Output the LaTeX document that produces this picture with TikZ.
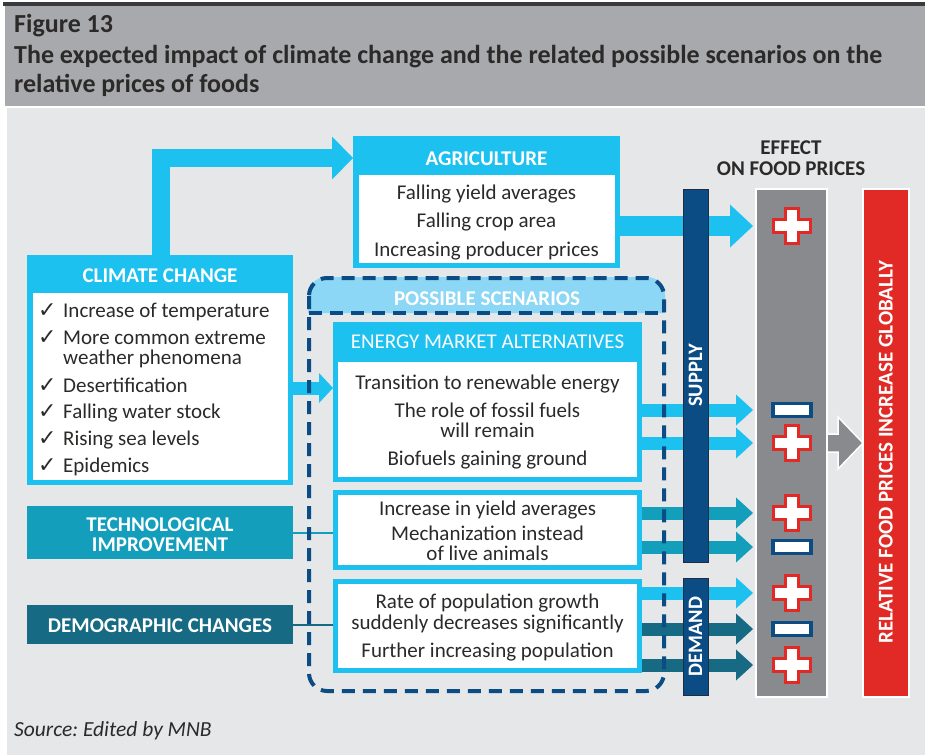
\documentclass[tikz,border=0pt]{standalone}
\usepackage{fontspec}
\setmainfont{Carlito}
\newfontfamily\djv{DejaVu Sans}
\usetikzlibrary{arrows.meta,calc}
\definecolor{cyanC}{HTML}{1CC1F0}
\definecolor{tealC}{HTML}{139EBC}
\definecolor{dtealC}{HTML}{166A83}
\definecolor{navyC}{HTML}{0B4C85}
\definecolor{navyB}{HTML}{1E2D40}
\definecolor{lblueC}{HTML}{8CD7F5}
\definecolor{bgC}{HTML}{E6E7E9}
\definecolor{titleC}{HTML}{A7A9AC}
\definecolor{topC}{HTML}{3A3A3C}
\definecolor{grayC}{HTML}{898A8E}
\definecolor{redC}{HTML}{E12A26}
\definecolor{textC}{HTML}{2B2A29}
\frenchspacing
\begin{document}
\begin{tikzpicture}[x=1pt,y=-1pt,
  blk/.style={rectangle, inner sep=0pt, outer sep=0pt, anchor=north west, draw=none},
  bodyt/.style={font=\fontsize{21}{24}\selectfont, text=textC, inner sep=0pt, anchor=base},
  hdrt/.style={font=\fontsize{21}{24}\selectfont\bfseries, text=white, inner sep=0pt, anchor=base},
  titlet/.style={font=\fontsize{26}{30}\selectfont\bfseries, text=textC, inner sep=0pt, anchor=base west},
  listt/.style={font=\fontsize{21}{24}\selectfont, text=textC, inner sep=0pt, anchor=base west},
  checkt/.style={font=\djv\fontsize{22}{24}\selectfont, text=textC, inner sep=0pt, anchor=base west},
  vert/.style={rotate=90, font=\fontsize{20.5}{24}\selectfont\bfseries, text=white, inner sep=0pt, text height=13pt, text depth=0pt},
  dashframe/.style={draw=navyC, line width=4pt, dash pattern=on 13pt off 8pt},
  plusi/.pic={\draw[fill=white, draw=redC, line width=3.8pt, line join=miter]
     (-18.5,-6.5) -- (-6.5,-6.5) -- (-6.5,-17.5) -- (6.5,-17.5) -- (6.5,-6.5) -- (18.5,-6.5)
     -- (18.5,6.5) -- (6.5,6.5) -- (6.5,17.5) -- (-6.5,17.5) -- (-6.5,6.5) -- (-18.5,6.5) -- cycle;},
  minusi/.pic={\draw[fill=white, draw=navyC, line width=3.8pt] (-19,-6.5) rectangle (19,6.5);}
]
\useasboundingbox (0,0) rectangle (925,755);
% backgrounds
\fill[white] (0,0) rectangle (925,755);
\fill[titleC] (5,6) rectangle (925,106);
\fill[topC] (3,2) rectangle (925,6);
\fill[bgC] (7,108) rectangle (925,755);

% title
\node[titlet] (t1) at (14,32) {Figure 13};
\node[titlet] (t2) at (14,63) {The expected impact of climate change and the related possible scenarios on the};
\node[titlet] (t3) at (14,92) {relative prices of foods};

% boxes
\node[blk, fill=cyanC, minimum width=266, minimum height=230] (cc) at (27,255) {};
\node[blk, fill=white, minimum width=255, minimum height=187] (ccin) at (33,293) {};
\node[blk, fill=cyanC, minimum width=267, minimum height=132] (agri) at (353,136) {};
\node[blk, fill=white, minimum width=256, minimum height=88] (agriin) at (359,175) {};

% possible scenarios header fill
\fill[lblueC] (308,313) [rounded corners=18pt] -- (308,277) -- (665,277) [sharp corners] -- (665,313) -- cycle;

\node[blk, fill=cyanC, minimum width=309, minimum height=160] (energy) at (333,322) {};
\node[blk, fill=white, minimum width=299, minimum height=115] (energyin) at (338,362) {};
\node[blk, fill=cyanC, minimum width=309, minimum height=80] (tech) at (333,490) {};
\node[blk, fill=white, minimum width=299, minimum height=70] (techin) at (338,495) {};
\node[blk, fill=cyanC, minimum width=309, minimum height=94] (demo) at (333,579) {};
\node[blk, fill=white, minimum width=299, minimum height=84] (demoin) at (338,584) {};
\node[blk, fill=tealC, minimum width=266, minimum height=53] (techlab) at (27,506) {};
\node[blk, fill=dtealC, minimum width=266, minimum height=39] (demolab) at (27,605) {};

% right-hand columns (positions)
\node[blk, fill=grayC, draw=white, line width=1.2pt, minimum width=71, minimum height=508] (effcol) at (756,189) {};
\node[blk, fill=redC, draw=white, line width=1.2pt, minimum width=46, minimum height=508] (redbar) at (863,189) {};
\coordinate (tipx) at ([xshift=-3pt]effcol.west);

% connectors
\draw[cyanC, line width=18pt, line join=miter, -{Triangle[width=43pt,length=21pt,line width=0pt]}]
  ([xshift=134pt]cc.north west) |- ([yshift=-22pt]agri.north west);
\coordinate (a1) at ([yshift=-90pt]agri.north east);
\draw[cyanC, line width=20pt, -{Triangle[width=43pt,length=23pt,line width=0pt]}] (a1) -- (a1 -| tipx);
\coordinate (c1) at ([yshift=-133pt]cc.north east);
\draw[cyanC, line width=13pt, -{Triangle[width=30pt,length=14pt,line width=0pt]}] (c1) -- (c1 -| energy.west);

\coordinate (e1) at ([yshift=-88pt]energy.north east);
\coordinate (e2) at ([yshift=-121pt]energy.north east);
\coordinate (g1) at ([yshift=-23pt]tech.north east);
\coordinate (g2) at ([yshift=-57pt]tech.north east);
\coordinate (d1) at ([yshift=-14pt]demo.north east);
\coordinate (d2) at ([yshift=-50pt]demo.north east);
\coordinate (d3) at ([yshift=-86pt]demo.north east);
\tikzset{sarrow/.style={line width=13pt, -{Triangle[width=31pt,length=17pt,line width=0pt]}}}
\draw[cyanC, sarrow] (e1) -- (e1 -| tipx);
\draw[cyanC, sarrow] (e2) -- (e2 -| tipx);
\draw[tealC, sarrow] (g1) -- (g1 -| tipx);
\draw[tealC, sarrow] (g2) -- (g2 -| tipx);
\draw[cyanC, sarrow] (d1) -- (d1 -| tipx);
\draw[dtealC, sarrow] (d2) -- (d2 -| tipx);
\draw[dtealC, sarrow] (d3) -- (d3 -| tipx);

\draw[tealC, line width=2pt] (techlab.east) -- (techlab.east -| tech.west);
\draw[dtealC, line width=2pt] (demolab.east) -- (demolab.east -| demo.west);

% dashed frame
\draw[dashframe, rounded corners=18pt] (309,278) rectangle (664,691);
\draw[dashframe] (309,313) -- (664,313);

% supply / demand bars
\node[blk, fill=navyC, draw=navyB, line width=1pt, minimum width=25, minimum height=373] (supply) at (683,189) {};
\node[blk, fill=navyC, draw=navyB, line width=1pt, minimum width=25, minimum height=117] (demand) at (683,578) {};

% gray arrow to red bar
\draw[fill=grayC, draw=white, line width=1.5pt, line join=miter]
  ([yshift=9pt]effcol.east) -- ++(11,0) -- ++(0,-17) -- (redbar.west) -- ++(-25,26) -- ++(0,-17)
  -- ([yshift=-9pt]effcol.east) -- cycle;

% icons
\pic at (792,226) {plusi};
\pic at (792,410) {minusi};
\pic at (792,443) {plusi};
\pic at (792,513) {plusi};
\pic at (792,547) {minusi};
\pic at (792,593) {plusi};
\pic at (792,629) {minusi};
\pic at (792,665) {plusi};

% texts
\node[hdrt] (cch) at (160,282.5) {CLIMATE CHANGE};
\node[checkt] (k1) at (38,317.5) {✓};
\node[listt] (l1) at (63,317.5) {Increase of temperature};
\node[checkt] (k2) at (38,344.5) {✓};
\node[listt] (l2) at (63,344.5) {More common extreme};
\node[listt] (l2b) at (63,364.5) {weather phenomena};
\node[checkt] (k3) at (38,392) {✓};
\node[listt] (l3) at (63,392) {Desertification};
\node[checkt] (k4) at (38,418.5) {✓};
\node[listt] (l4) at (63,418.5) {Falling water stock};
\node[checkt] (k5) at (38,445.5) {✓};
\node[listt] (l5) at (63,445.5) {Rising sea levels};
\node[checkt] (k6) at (38,472) {✓};
\node[listt] (l6) at (63,472) {Epidemics};

\node[hdrt] (agh) at (486.5,165.5) {AGRICULTURE};
\node[bodyt] (ag1) at (486.5,199.5) {Falling yield averages};
\node[bodyt] (ag2) at (486.5,227.5) {Falling crop area};
\node[bodyt] (ag3) at (486.5,256.5) {Increasing producer prices};

\node[hdrt, font=\fontsize{21}{24}\selectfont\bfseries] (psh) at (487,305.5) {POSSIBLE SCENARIOS};
\node[hdrt, font=\fontsize{21}{24}\selectfont] (enh) at (487.5,348.5) {ENERGY MARKET ALTERNATIVES};
\node[bodyt] (en1) at (487.5,389.5) {Transition to renewable energy};
\node[bodyt] (en2) at (487.5,417) {The role of fossil fuels};
\node[bodyt] (en3) at (487.5,437.5) {will remain};
\node[bodyt] (en4) at (487.5,465.5) {Biofuels gaining ground};

\node[bodyt] (te1) at (487.5,515) {Increase in yield averages};
\node[bodyt] (te2) at (487.5,540) {Mechanization instead};
\node[bodyt] (te3) at (487.5,560.5) {of live animals};

\node[bodyt] (de1) at (487.5,608) {Rate of population growth};
\node[bodyt] (de2) at (487.5,629) {suddenly decreases significantly};
\node[bodyt] (de3) at (487.5,657) {Further increasing population};

\node[hdrt] (tl1) at (160,531) {TECHNOLOGICAL};
\node[hdrt] (tl2) at (160,551) {IMPROVEMENT};
\node[hdrt] (dl1) at (160,632.5) {DEMOGRAPHIC CHANGES};

\node[hdrt, text=textC] (ef1) at (791,154) {EFFECT};
\node[hdrt, text=textC] (ef2) at (791,175) {ON FOOD PRICES};

\node[vert] (sup) at (supply.center) {SUPPLY};
\node[vert] (dem) at (demand.center) {DEMAND};
\node[vert, font=\fontsize{21}{24}\selectfont\bfseries] (rel) at ([yshift=-9pt]redbar.center) {RELATIVE FOOD PRICES INCREASE GLOBALLY};

\node[font=\fontsize{21.5}{24}\selectfont\itshape, text=textC, inner sep=0pt, anchor=base west] (src) at (14,736) {Source: Edited by MNB};
\end{tikzpicture}
\end{document}
